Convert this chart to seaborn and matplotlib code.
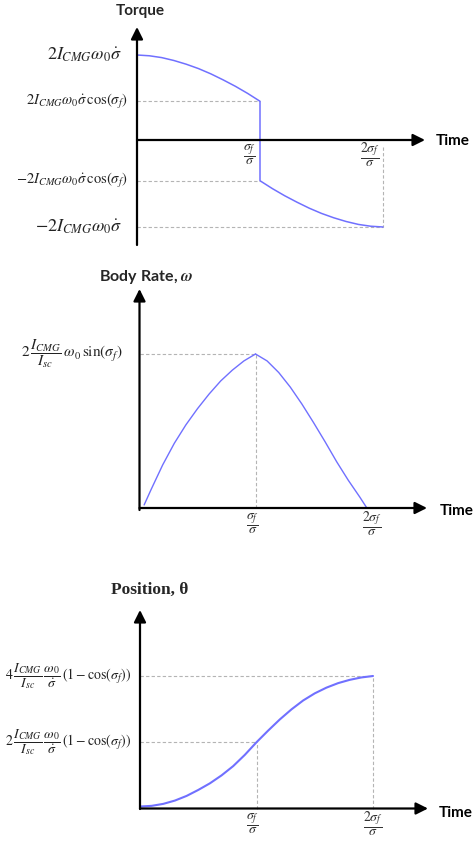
import matplotlib
matplotlib.use("Agg")
import matplotlib.pyplot as plt
import numpy as np
import pandas as pd
import seaborn as sns

# ---- data (time in units of sigma_f / sigma_dot, values normalised) ----
t_before = [0.0, 0.1, 0.2, 0.3, 0.4, 0.5, 0.6, 0.7, 0.8, 0.9, 1.0]
t_after = [1.0, 1.1, 1.2, 1.3, 1.4, 1.5, 1.6, 1.7, 1.8, 1.9, 2.0]
torque_before = [1.00, 0.991, 0.970, 0.936, 0.893, 0.842, 0.781, 0.711, 0.636, 0.553, 0.462]
torque_after = [-0.462, -0.553, -0.636, -0.711, -0.781, -0.842, -0.893, -0.936, -0.970, -0.991, -1.00]

rate_t_up = [0.04, 0.1, 0.2, 0.3, 0.4, 0.5, 0.6, 0.7, 0.8, 0.9, 1.0]
rate_up = [0.02, 0.12, 0.28, 0.42, 0.54, 0.645, 0.74, 0.825, 0.895, 0.955, 1.00]
rate_t_down = [1.0, 1.1, 1.2, 1.3, 1.4, 1.5, 1.6, 1.7, 1.8, 1.9, 1.96]
rate_down = [1.00, 0.955, 0.88, 0.785, 0.675, 0.555, 0.43, 0.30, 0.18, 0.07, 0.00]

pos_t = [0.0, 0.1, 0.2, 0.3, 0.4, 0.5, 0.6, 0.7, 0.8, 0.9, 1.0,
         1.1, 1.2, 1.3, 1.4, 1.5, 1.6, 1.7, 1.8, 1.9, 2.0]
position = [0.015, 0.02, 0.035, 0.06, 0.095, 0.14, 0.19, 0.25, 0.32, 0.405, 0.50,
            0.588, 0.672, 0.748, 0.815, 0.869, 0.912, 0.946, 0.971, 0.989, 1.00]

x_tick_labels = [r"$\dfrac{\sigma_f}{\sigma}$", r"$\dfrac{2\sigma_f}{\sigma}$"]
torque_labels = [r"$2I_{CMG}\omega_0\dot{\sigma}$",
                 r"$2I_{CMG}\omega_0\dot{\sigma}\,\cos(\sigma_f)$",
                 r"$-2I_{CMG}\omega_0\dot{\sigma}\,\cos(\sigma_f)$",
                 r"$-2I_{CMG}\omega_0\dot{\sigma}$"]
rate_label = r"$2\,\dfrac{I_{CMG}}{I_{sc}}\,\omega_0\,\sin(\sigma_f)$"
pos_labels = [r"$4\,\dfrac{I_{CMG}}{I_{sc}}\,\dfrac{\omega_0}{\dot{\sigma}}\,(1-\cos(\sigma_f))$",
              r"$2\,\dfrac{I_{CMG}}{I_{sc}}\,\dfrac{\omega_0}{\dot{\sigma}}\,(1-\cos(\sigma_f))$"]

# ---- style ----
sns.set_theme(style="white")
plt.rcParams["font.family"] = ["Lato", "DejaVu Sans"]
plt.rcParams["mathtext.fontset"] = "stix"

W, H = 477, 841
fig = plt.figure(figsize=(W / 100, H / 100), dpi=100)

LINE = "#7070ff"
DASH = "#b4b4b4"
TXT = "#333333"


def panel(ox, oy, sx, sy):
    """Full-figure transparent axes whose origin sits at pixel (ox, oy)."""
    ax = fig.add_axes([0, 0, 1, 1])
    ax.set_xlim(-ox / sx, (W - ox) / sx)
    ax.set_ylim((oy - H) / sy, oy / sy)
    ax.set_axis_off()
    ax.patch.set_alpha(0)
    px = lambda x: (x - ox) / sx
    py = lambda y: (oy - y) / sy
    return ax, px, py


def arrow(ax, start, end):
    ax.annotate("", xy=end, xytext=start,
                arrowprops=dict(arrowstyle="-|>,head_length=0.6,head_width=0.3",
                                lw=1.6, color="black", shrinkA=0, shrinkB=0,
                                mutation_scale=12))


def dashed(ax, xs, ys):
    ax.plot(xs, ys, color=DASH, lw=0.8, ls=(0, (3, 2)), zorder=1)


def time_label(ax, px, py, x, y):
    ax.text(px(x), py(y), "Time", ha="center", va="center",
            fontsize=11, fontweight="bold", color="black")


# ================= Torque =================
ax, px, py = panel(137, 141, 123, 86)
df_tq = pd.DataFrame({"t": t_before + t_after, "v": torque_before + torque_after})
sns.lineplot(data=df_tq, x="t", y="v", ax=ax, color=LINE, lw=1.1,
             estimator=None, sort=False, zorder=3)
cf = torque_before[-1]
dashed(ax, [0, 1], [cf, cf])
dashed(ax, [0, 1], [-cf, -cf])
dashed(ax, [0, 2], [-1, -1])
dashed(ax, [2, 2], [py(147), -1])
arrow(ax, (0, py(140)), (px(425), py(140)))
arrow(ax, (0, py(245)), (0, py(27)))
ax.text(px(140), py(11), "Torque", ha="center", va="center",
        fontsize=11, fontweight="bold")
time_label(ax, px, py, 453, 141)
for v, lab, right, fs in zip([1, cf, -cf, -1], torque_labels,
                             [122, 128, 128, 122], [13, 10.5, 10.5, 13]):
    ax.text(px(right), v, lab, ha="right", va="center", fontsize=fs, color="#222222")
for lab, xc in zip(x_tick_labels, [250, 370]):
    ax.text(px(xc), py(155), lab, ha="center", va="center", fontsize=10, color=TXT)

# ================= Body rate =================
ax, px, py = panel(139.5, 508, 116, 154)
df_up = pd.DataFrame({"t": rate_t_up, "v": rate_up})
df_dn = pd.DataFrame({"t": rate_t_down, "v": rate_down})
sns.lineplot(data=df_up, x="t", y="v", ax=ax, color=LINE, lw=1.0, estimator=None, zorder=3)
sns.lineplot(data=df_dn, x="t", y="v", ax=ax, color=LINE, lw=1.0, estimator=None, zorder=3)
peak = rate_up[-1]
dashed(ax, [0, 1], [peak, peak])
dashed(ax, [1, 1], [0, peak])
arrow(ax, (0, 0), (px(427), 0))
arrow(ax, (0, py(510)), (0, py(289)))
ax.text(px(146), py(277), r"Body Rate, $\boldsymbol{\omega}$", ha="center", va="center",
        fontsize=11.5, fontweight="bold")
time_label(ax, px, py, 457, 511)
ax.text(px(123), peak, rate_label, ha="right", va="center", fontsize=11, color="#222222")
for lab, xc in zip(x_tick_labels, [253, 372]):
    ax.text(px(xc), py(524), lab, ha="center", va="center", fontsize=10, color=TXT)

# ================= Position =================
ax, px, py = panel(140, 808.5, 116.5, 132.5)
df_pos = pd.DataFrame({"t": pos_t, "v": position})
sns.lineplot(data=df_pos, x="t", y="v", ax=ax, color=LINE, lw=1.5, estimator=None, zorder=3)
half = position[pos_t.index(1.0)]
full = position[-1]
dashed(ax, [0, 2], [full, full])
dashed(ax, [0, 1], [half, half])
dashed(ax, [1, 1], [0, half])
dashed(ax, [2, 2], [0, full])
arrow(ax, (0, 0), (px(428), 0))
arrow(ax, (0, py(809)), (0, py(610)))
ax.text(px(150), py(590), "Position, θ", ha="center", va="center",
        fontsize=12.5, fontweight="bold", family=["Liberation Serif", "DejaVu Serif"])
time_label(ax, px, py, 456, 813)
for v, lab in zip([full, half], pos_labels):
    ax.text(px(131), v, lab, ha="right", va="center", fontsize=10, color="#222222")
for lab, xc in zip(x_tick_labels, [253, 373]):
    ax.text(px(xc), py(824), lab, ha="center", va="center", fontsize=10, color=TXT)

fig.savefig("out.png", dpi=100, facecolor="white")
